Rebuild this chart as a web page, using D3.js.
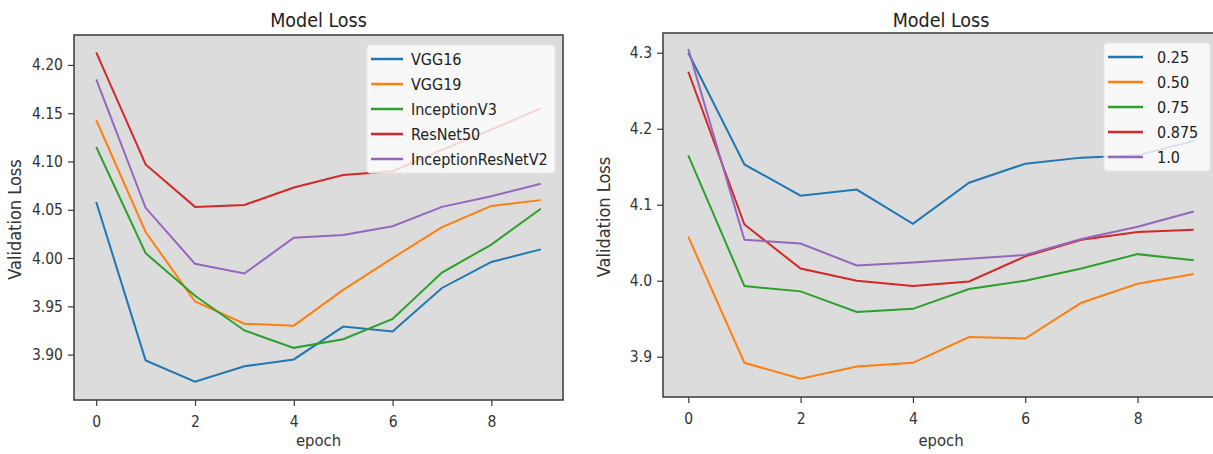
<!DOCTYPE html>
<html lang="en">
<head>
<meta charset="UTF-8">
<title>Model Loss</title>
<script src="https://d3js.org/d3.v7.min.js"></script>
<style>
  body { margin: 0; background: #fff; }
  svg { display: block; font-family: "DejaVu Sans Condensed", "DejaVu Sans", sans-serif; }
</style>
</head>
<body>
<svg id="chart" width="1213" height="454"></svg>
<script>
// epochs shared by both plots
var epochs = [0, 1, 2, 3, 4, 5, 6, 7, 8, 9];

// left plot: backbone models
var modelNames = ["VGG16", "VGG19", "InceptionV3", "ResNet50", "InceptionResNetV2"];
var vgg16 = [4.058, 3.894, 3.872, 3.888, 3.895, 3.929, 3.924, 3.969, 3.996, 4.009];
var vgg19 = [4.143, 4.027, 3.955, 3.932, 3.930, 3.967, 4.000, 4.032, 4.054, 4.060];
var inceptionV3 = [4.115, 4.005, 3.961, 3.925, 3.907, 3.916, 3.937, 3.985, 4.014, 4.051];
var resNet50 = [4.213, 4.097, 4.053, 4.055, 4.073, 4.086, 4.090, 4.112, 4.133, 4.155];
var inceptionResNetV2 = [4.185, 4.052, 3.994, 3.984, 4.021, 4.024, 4.033, 4.053, 4.064, 4.077];
var leftTicks = [3.90, 3.95, 4.00, 4.05, 4.10, 4.15, 4.20];

// right plot: width multipliers
var alphaNames = ["0.25", "0.50", "0.75", "0.875", "1.0"];
var alpha025 = [4.300, 4.153, 4.112, 4.120, 4.075, 4.129, 4.154, 4.162, 4.165, 4.184];
var alpha050 = [4.058, 3.892, 3.871, 3.887, 3.892, 3.926, 3.924, 3.971, 3.996, 4.009];
var alpha075 = [4.165, 3.993, 3.986, 3.959, 3.963, 3.989, 4.000, 4.016, 4.035, 4.027];
var alpha0875 = [4.275, 4.074, 4.016, 4.000, 3.993, 3.999, 4.032, 4.054, 4.064, 4.067];
var alpha100 = [4.305, 4.054, 4.049, 4.020, 4.024, 4.029, 4.034, 4.055, 4.071, 4.091];
var rightTicks = [3.9, 4.0, 4.1, 4.2, 4.3];

var xTicks = [0, 2, 4, 6, 8];
var colors = ["#1f77b4", "#ff7f0e", "#2ca02c", "#d62728", "#9467bd"];

var svg = d3.select("#chart");

function drawPanel(opt) {
  var g = svg.append("g");
  var x = d3.scaleLinear().domain([-0.45, 9.45]).range([opt.left, opt.right]);
  var y = d3.scaleLinear().domain(opt.yDomain).range([opt.bottom, opt.top]);

  g.append("rect")
    .attr("x", opt.left).attr("y", opt.top)
    .attr("width", opt.right - opt.left).attr("height", opt.bottom - opt.top)
    .attr("fill", "#dcdcdc");

  var line = d3.line().x(function(d, i) { return x(epochs[i]); }).y(function(d) { return y(d); });

  g.selectAll("path.series")
    .data(opt.series)
    .enter()
    .append("path")
    .attr("class", "series")
    .attr("d", line)
    .attr("fill", "none")
    .attr("stroke", function(d, i) { return colors[i]; })
    .attr("stroke-width", 2);

  // frame
  g.append("rect")
    .attr("x", opt.left).attr("y", opt.top)
    .attr("width", opt.right - opt.left).attr("height", opt.bottom - opt.top)
    .attr("fill", "none").attr("stroke", "#3a3a3a").attr("stroke-width", 1.5);

  var xAxis = g.append("g")
    .attr("transform", "translate(0," + opt.bottom + ")")
    .call(d3.axisBottom(x).tickValues(xTicks).tickSize(6).tickPadding(10));
  var yAxis = g.append("g")
    .attr("transform", "translate(" + opt.left + ",0)")
    .call(d3.axisLeft(y).tickValues(opt.yTicks).tickFormat(d3.format(opt.fmt)).tickSize(6).tickPadding(5));
  [xAxis, yAxis].forEach(function(a) {
    a.select(".domain").remove();
    a.selectAll("line").attr("stroke", "#3a3a3a").attr("stroke-width", 1.2);
    a.selectAll("text").attr("font-size", "15.5px").attr("fill", "#333")
      .attr("font-family", "DejaVu Sans Condensed, DejaVu Sans, sans-serif");
  });

  var cx = (opt.left + opt.right) / 2;
  g.append("text")
    .attr("x", cx).attr("y", 27)
    .attr("text-anchor", "middle")
    .attr("font-size", "19.5px").attr("fill", "#222")
    .text("Model Loss");
  g.append("text")
    .attr("x", cx).attr("y", 446)
    .attr("text-anchor", "middle")
    .attr("font-size", "16.5px").attr("fill", "#333")
    .text("epoch");
  g.append("text")
    .attr("transform", "translate(" + opt.yLabelX + "," + ((opt.top + opt.bottom) / 2 + 2) + ") rotate(-90)")
    .attr("text-anchor", "middle")
    .attr("font-size", "18px").attr("fill", "#333")
    .text("Validation Loss");

  // legend
  var lg = opt.legend;
  g.append("rect")
    .attr("x", lg.x).attr("y", lg.y)
    .attr("width", lg.w).attr("height", lg.h)
    .attr("rx", 3)
    .attr("fill", "#fff").attr("fill-opacity", 0.8)
    .attr("stroke", "#e6e6e6");
  var items = g.selectAll("g.legendItem")
    .data(opt.names)
    .enter()
    .append("g")
    .attr("class", "legendItem")
    .attr("transform", function(d, i) { return "translate(" + lg.x + "," + (lg.y + 14 + i * 25) + ")"; });
  items.append("line")
    .attr("x1", 4).attr("x2", 4 + lg.lineLen)
    .attr("y1", 0).attr("y2", 0)
    .attr("stroke", function(d, i) { return colors[i]; })
    .attr("stroke-width", 2.5);
  items.append("text")
    .attr("x", lg.textX).attr("y", 6)
    .attr("font-size", "16px").attr("fill", "#222")
    .text(function(d) { return d; });
}

drawPanel({
  left: 74, right: 563, top: 35, bottom: 400,
  yDomain: [3.853, 4.231], yTicks: leftTicks, fmt: ".2f",
  series: [vgg16, vgg19, inceptionV3, resNet50, inceptionResNetV2],
  names: modelNames, yLabelX: 21,
  legend: { x: 367, y: 45, w: 188, h: 128, lineLen: 32, textX: 44 }
});

drawPanel({
  left: 663, right: 1219, top: 33, bottom: 397,
  yDomain: [3.847, 4.326], yTicks: rightTicks, fmt: ".1f",
  series: [alpha025, alpha050, alpha075, alpha0875, alpha100],
  names: alphaNames, yLabelX: 610,
  legend: { x: 1104, y: 43, w: 106, h: 128, lineLen: 35, textX: 53 }
});
</script>
</body>
</html>
